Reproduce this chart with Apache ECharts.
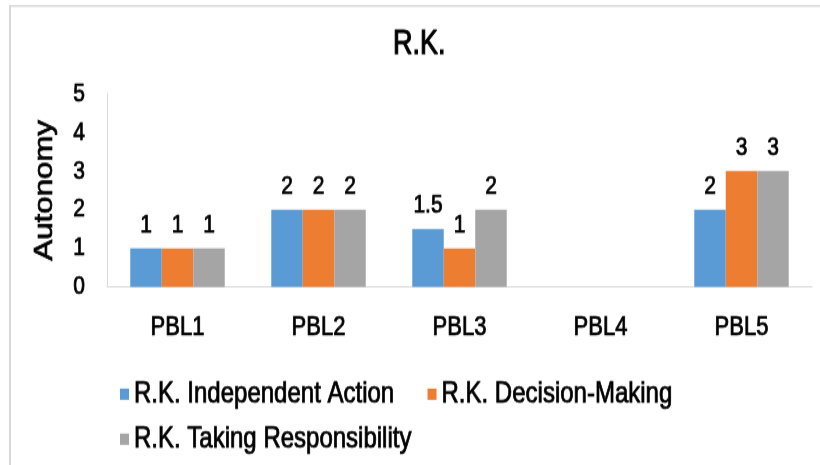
<!DOCTYPE html>
<html>
<head>
<meta charset="utf-8">
<script src="https://cdn.jsdelivr.net/npm/echarts@6/dist/echarts.min.js"></script>
<style>
  html, body { margin: 0; padding: 0; background: #fff; }
  #page { width: 820px; height: 465px; position: relative; overflow: hidden; }
  /* the chart is laid out at 820x372 and stretched to fill the 465px-tall page */
  #chart { position: absolute; left: 0; top: 0; width: 820px; height: 372px; transform: scaleY(1.25); transform-origin: 0 0; }
</style>
</head>
<body>
<div id="page"><div id="chart"></div></div>
<script>
// Autonomy scores for R.K. across the five PBL sessions
const categories = ['PBL1', 'PBL2', 'PBL3', 'PBL4', 'PBL5'];
const seriesNames = ['R.K. Independent Action', 'R.K. Decision-Making', 'R.K. Taking Responsibility'];
const independentAction = [1, 2, 1.5, null, 2];
const decisionMaking = [1, 2, 1, null, 3];
const takingResponsibility = [1, 2, 2, null, 3];
const yTicks = [0, 1, 2, 3, 4, 5];

const colors = ['#5b9bd5', '#ed7d31', '#a5a5a5'];
const font = "'Liberation Sans', Arial, sans-serif";

// dark text with a thin outline so the glyphs read a little heavier
function textStyle(size, weight) {
  return {
    color: '#000',
    fontFamily: font,
    fontSize: size,
    fontWeight: 'normal',
    textBorderColor: '#000',
    textBorderWidth: weight
  };
}

const chart = echarts.init(document.getElementById('chart'), null, { renderer: 'canvas' });

function barSeries(name, data, color) {
  return {
    name: name,
    type: 'bar',
    data: data,
    barGap: '0%',
    barCategoryGap: '33%',
    itemStyle: { color: color },
    label: Object.assign({ show: true, position: 'top', distance: 8 }, textStyle(21, 0.7))
  };
}

chart.setOption({
  animation: false,
  backgroundColor: '#fff',
  title: {
    text: 'R.K.',
    left: 388,
    top: 17,
    textStyle: textStyle(27, 1)
  },
  graphic: [{
    type: 'line',
    shape: { x1: 9, y1: 4.8, x2: 830, y2: 4.8 },
    style: { stroke: '#d9d9d9', lineWidth: 1.6 },
    silent: true
  }, {
    type: 'line',
    shape: { x1: 10, y1: 4, x2: 10, y2: 400 },
    style: { stroke: '#d9d9d9', lineWidth: 2 },
    silent: true
  }],
  legend: [{
    data: seriesNames.slice(0, 2),
    left: 115,
    top: 298,
    orient: 'horizontal',
    itemGap: 33,
    itemWidth: 9,
    itemHeight: 9,
    icon: 'rect',
    textStyle: textStyle(24, 0.7)
  }, {
    data: seriesNames.slice(2),
    left: 115,
    top: 334,
    orient: 'horizontal',
    itemWidth: 9,
    itemHeight: 9,
    icon: 'rect',
    textStyle: textStyle(24, 0.7)
  }],
  grid: { left: 107, right: 8, top: 74.8, bottom: 142.4, containLabel: false },
  xAxis: {
    type: 'category',
    data: categories,
    axisLine: { show: true, lineStyle: { color: '#d9d9d9', width: 1 } },
    axisTick: { show: false },
    axisLabel: Object.assign({ margin: 21 }, textStyle(22, 0.7))
  },
  yAxis: {
    type: 'value',
    min: yTicks[0],
    max: yTicks[yTicks.length - 1],
    interval: 1,
    name: 'Autonomy',
    nameLocation: 'middle',
    nameRotate: 90,
    nameGap: 49,
    nameTextStyle: textStyle(25, 0.7),
    axisLine: { show: true, lineStyle: { color: '#d9d9d9', width: 1 } },
    axisTick: { show: false },
    splitLine: { show: false },
    axisLabel: Object.assign({ margin: 22 }, textStyle(21, 0.7))
  },
  series: [
    barSeries(seriesNames[0], independentAction, colors[0]),
    barSeries(seriesNames[1], decisionMaking, colors[1]),
    barSeries(seriesNames[2], takingResponsibility, colors[2])
  ]
});
</script>
</body>
</html>
